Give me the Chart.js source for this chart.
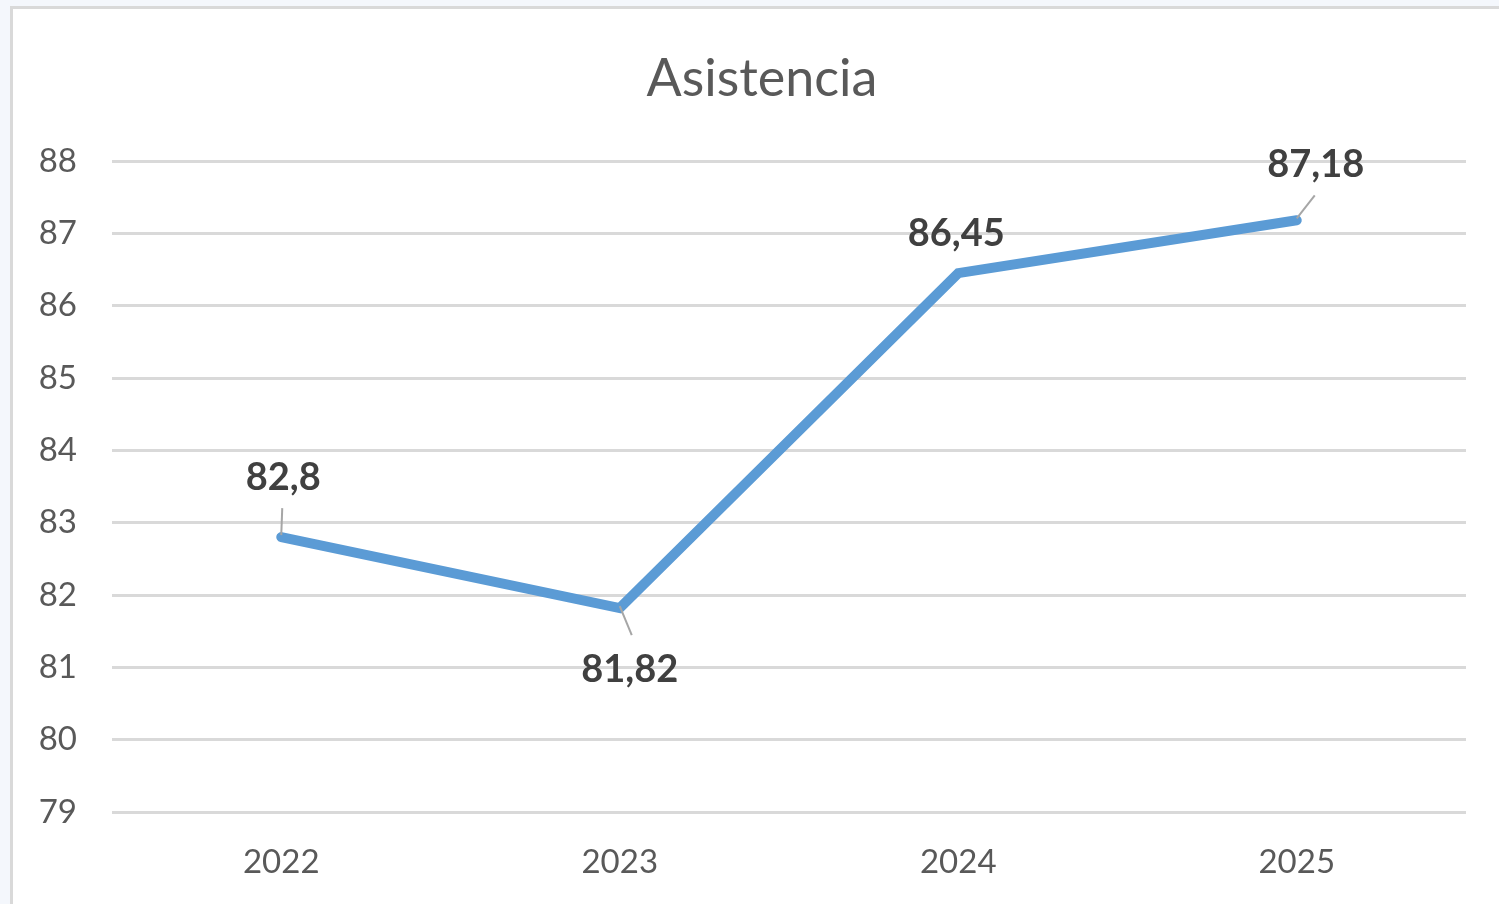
<!DOCTYPE html>
<html>
<head>
<meta charset="utf-8">
<script src="https://cdn.jsdelivr.net/npm/chart.js@4.4.1/dist/chart.umd.min.js"></script>
<style>
  html, body { margin: 0; padding: 0; background: #f4f7fc; overflow: hidden; }
  #panel {
    position: absolute; left: 10px; top: 6px; width: 1500px; height: 910px;
    background: #ffffff; border-left: 3px solid #d9d9d9; border-top: 3px solid #d9d9d9;
  }
  #wrap { position: absolute; left: 0; top: 0; width: 1499px; height: 904px; }
</style>
</head>
<body>
<div id="panel"></div>
<div id="wrap"><canvas id="attendanceChart"></canvas></div>
<script>
const years = ['2022', '2023', '2024', '2025'];
const asistencia = [82.8, 81.82, 86.45, 87.18];
const yMin = 79;
const yMax = 88;
const chartTitle = 'Asistencia';

// label placement relative to each point (label centre, leader end)
const labelOffsets = [[2, -59], [10, 62], [-2, -39], [19, -56]];
const leaderEnds = [[1, -29], [12, 27], null, [18, -25]];

const fmt = v => String(v).replace('.', ',');

// Excel-style title, centred on the panel rather than the canvas
const titleBlock = {
    id: 'titleBlock',
    afterDraw(chart) {
        const ctx = chart.ctx;
        ctx.save();
        ctx.fillStyle = '#595959';
        ctx.font = '52px Lato';
        ctx.textAlign = 'center';
        ctx.textBaseline = 'middle';
        ctx.fillText(chartTitle, 762, 79);
        ctx.restore();
    }
};

const dataLabels = {
    id: 'dataLabels',
    afterDatasetsDraw(chart) {
        const ctx = chart.ctx;
        const meta = chart.getDatasetMeta(0);
        ctx.save();
        meta.data.forEach((pt, i) => {
            const lead = leaderEnds[i];
            if (lead) {
                ctx.strokeStyle = '#a6a6a6';
                ctx.lineWidth = 2;
                ctx.beginPath();
                ctx.moveTo(pt.x, pt.y - 2);
                ctx.lineTo(pt.x + lead[0], pt.y + lead[1]);
                ctx.stroke();
            }
            const off = labelOffsets[i];
            ctx.fillStyle = '#404040';
            ctx.font = 'bold 38px Lato';
            ctx.textAlign = 'center';
            ctx.textBaseline = 'middle';
            ctx.fillText(fmt(asistencia[i]), pt.x + off[0], pt.y + off[1]);
        });
        ctx.restore();
    }
};

new Chart(document.getElementById('attendanceChart'), {
    type: 'line',
    data: {
        labels: years,
        datasets: [{
            label: chartTitle,
            data: asistencia,
            borderColor: '#5b9bd5',
            borderWidth: 10,
            borderCapStyle: 'round',
            pointRadius: 0,
            tension: 0
        }]
    },
    options: {
        responsive: true,
        maintainAspectRatio: false,
        animation: false,
        layout: { padding: { left: 0, right: 33, top: 161, bottom: 0 } },
        plugins: {
            legend: { display: false },
            tooltip: { enabled: false },
            title: { display: false }
        },
        scales: {
            x: {
                offset: true,
                grid: { display: false, drawTicks: false },
                border: { display: false },
                ticks: { color: '#595959', font: { family: 'Lato', size: 33 }, padding: 31 },
                afterFit: s => { s.height = 92; }
            },
            y: {
                min: yMin,
                max: yMax,
                grid: { color: '#d9d9d9', lineWidth: 3, drawTicks: false },
                border: { display: false },
                ticks: { stepSize: 1, color: '#595959', font: { family: 'Lato', size: 33 }, padding: 35 },
                afterFit: s => { s.width = 112; }
            }
        }
    },
    plugins: [dataLabels, titleBlock]
});
</script>
</body>
</html>
